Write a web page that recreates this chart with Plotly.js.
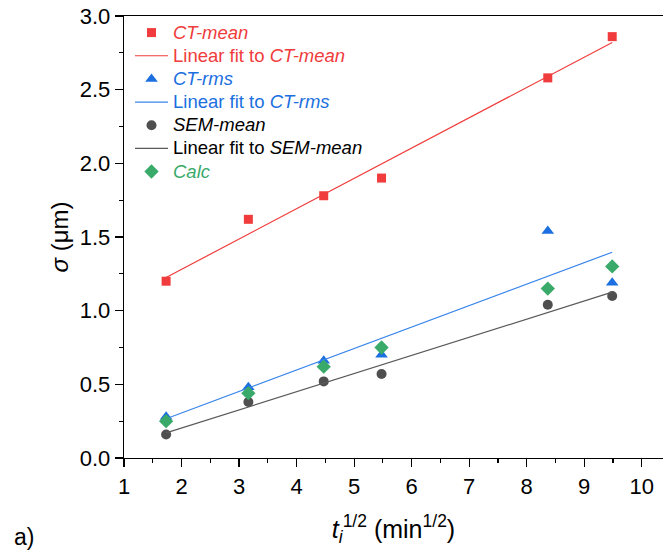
<!DOCTYPE html>
<html>
<head>
<meta charset="utf-8">
<script src="https://cdn.plot.ly/plotly-3.0.1.min.js"></script>
<style>html,body{margin:0;padding:0;background:#fff;}</style>
</head>
<body>
<div id="chart" style="width:663px;height:552px;"></div>
<script>
// sqrt of immersion time (min^1/2)
const tSqrt = [1.732, 3.162, 4.472, 5.477, 8.367, 9.487];
const ctMean = [1.20, 1.62, 1.78, 1.90, 2.58, 2.86];
const ctRms  = [0.28, 0.48, 0.66, 0.70, 1.54, 1.19];
const semMean = [0.16, 0.38, 0.52, 0.57, 1.04, 1.10];
const calc   = [0.25, 0.44, 0.62, 0.75, 1.15, 1.30];
const xTicks = [1, 2, 3, 4, 5, 6, 7, 8, 9, 10];
const yTicks = [0.0, 0.5, 1.0, 1.5, 2.0, 2.5, 3.0];

const RED = '#F03C3C', BLUE = '#1B6FE0', BLUE_L = '#3A86EA', GREY = '#4F4F4F', GREY_L = '#5A5A5A', GREEN = '#3AAA6A';

function fit(x, y) {
  const n = x.length;
  const mx = x.reduce((a, b) => a + b, 0) / n;
  const my = y.reduce((a, b) => a + b, 0) / n;
  let sxy = 0, sxx = 0;
  for (let i = 0; i < n; i++) { sxy += (x[i] - mx) * (y[i] - my); sxx += (x[i] - mx) ** 2; }
  const b = sxy / sxx, a = my - b * mx;
  const xs = [Math.min(...x), Math.max(...x)];
  return { x: xs, y: xs.map(v => a + b * v) };
}
const fCT = fit(tSqrt, ctMean), fRms = fit(tSqrt, ctRms), fSem = fit(tSqrt, semMean);

const span = (c, s) => '<span style="color:' + c + ';font-size:18.5px">' + s + '</span>';

const traces = [
  { x: tSqrt, y: ctMean, mode: 'markers', type: 'scatter', name: span(RED, '<i>CT-mean</i>'),
    marker: { symbol: 'square', size: 9, color: RED } },
  { x: fCT.x, y: fCT.y, mode: 'lines', type: 'scatter', name: span(RED, 'Linear fit to <i>CT-mean</i>'),
    line: { color: RED, width: 1.2 } },
  { x: tSqrt, y: ctRms, mode: 'markers', type: 'scatter', name: span(BLUE, '<i>CT-rms</i>'),
    marker: { symbol: 'triangle-up', size: 11, color: BLUE } },
  { x: fRms.x, y: fRms.y, mode: 'lines', type: 'scatter', name: span(BLUE, 'Linear fit to <i>CT-rms</i>'),
    line: { color: BLUE_L, width: 1.2 } },
  { x: tSqrt, y: semMean, mode: 'markers', type: 'scatter', name: span('#000', '<i>SEM-mean</i>'),
    marker: { symbol: 'circle', size: 10, color: GREY } },
  { x: fSem.x, y: fSem.y, mode: 'lines', type: 'scatter', name: span('#000', 'Linear fit to <i>SEM-mean</i>'),
    line: { color: GREY_L, width: 1.2 } },
  { x: tSqrt, y: calc, mode: 'markers', type: 'scatter', name: span(GREEN, '<i>Calc</i>'),
    marker: { symbol: 'diamond', size: 11, color: GREEN } }
];

const layout = {
  width: 663, height: 552,
  margin: { l: 124, r: 0, t: 16, b: 94 },
  paper_bgcolor: '#fff', plot_bgcolor: '#fff',
  font: { family: '"Liberation Sans", Arial, sans-serif', color: '#000' },
  showlegend: true,
  legend: { x: 6 / 539, y: 1.0, xanchor: 'left', yanchor: 'top', bgcolor: 'rgba(0,0,0,0)',
    font: { size: 15.5 }, tracegroupgap: 0, traceorder: 'normal', itemwidth: 33 },
  xaxis: {
    range: [1, 10.37], tickvals: xTicks, ticktext: xTicks.map(String),
    showgrid: false, zeroline: false, showline: true, linecolor: '#000', linewidth: 1.3, mirror: true,
    ticks: 'outside', ticklen: 8, tickwidth: 1.2, tickcolor: '#000',
    minor: { dtick: 0.5, tick0: 1, ticks: 'outside', ticklen: 4, tickwidth: 1.2, tickcolor: '#000' },
    tickfont: { size: 22 },
    title: { text: '<i>t</i><sub><i>i</i></sub><sup>1/2</sup> (min<sup>1/2</sup>)', font: { size: 25 }, standoff: 22 }
  },
  yaxis: {
    range: [0, 3.0], tickvals: yTicks, ticktext: yTicks.map(v => v.toFixed(1)),
    showgrid: false, zeroline: false, showline: true, linecolor: '#000', linewidth: 1.3, mirror: false,
    ticks: 'outside', ticklen: 8, tickwidth: 1.2, tickcolor: '#000',
    minor: { dtick: 0.25, tick0: 0, ticks: 'outside', ticklen: 4, tickwidth: 1.2, tickcolor: '#000' },
    tickfont: { size: 22 },
    title: { text: '<i>σ</i> (μm)', font: { size: 24 }, standoff: 4 }
  },
  annotations: [
    { text: 'a)', xref: 'paper', yref: 'paper', x: (12 - 124) / 539, y: -94 / 442, xanchor: 'left', yanchor: 'bottom',
      showarrow: false, font: { size: 23 } }
  ]
};

Plotly.newPlot('chart', traces, layout, { displayModeBar: false, staticPlot: true });
</script>
</body>
</html>
